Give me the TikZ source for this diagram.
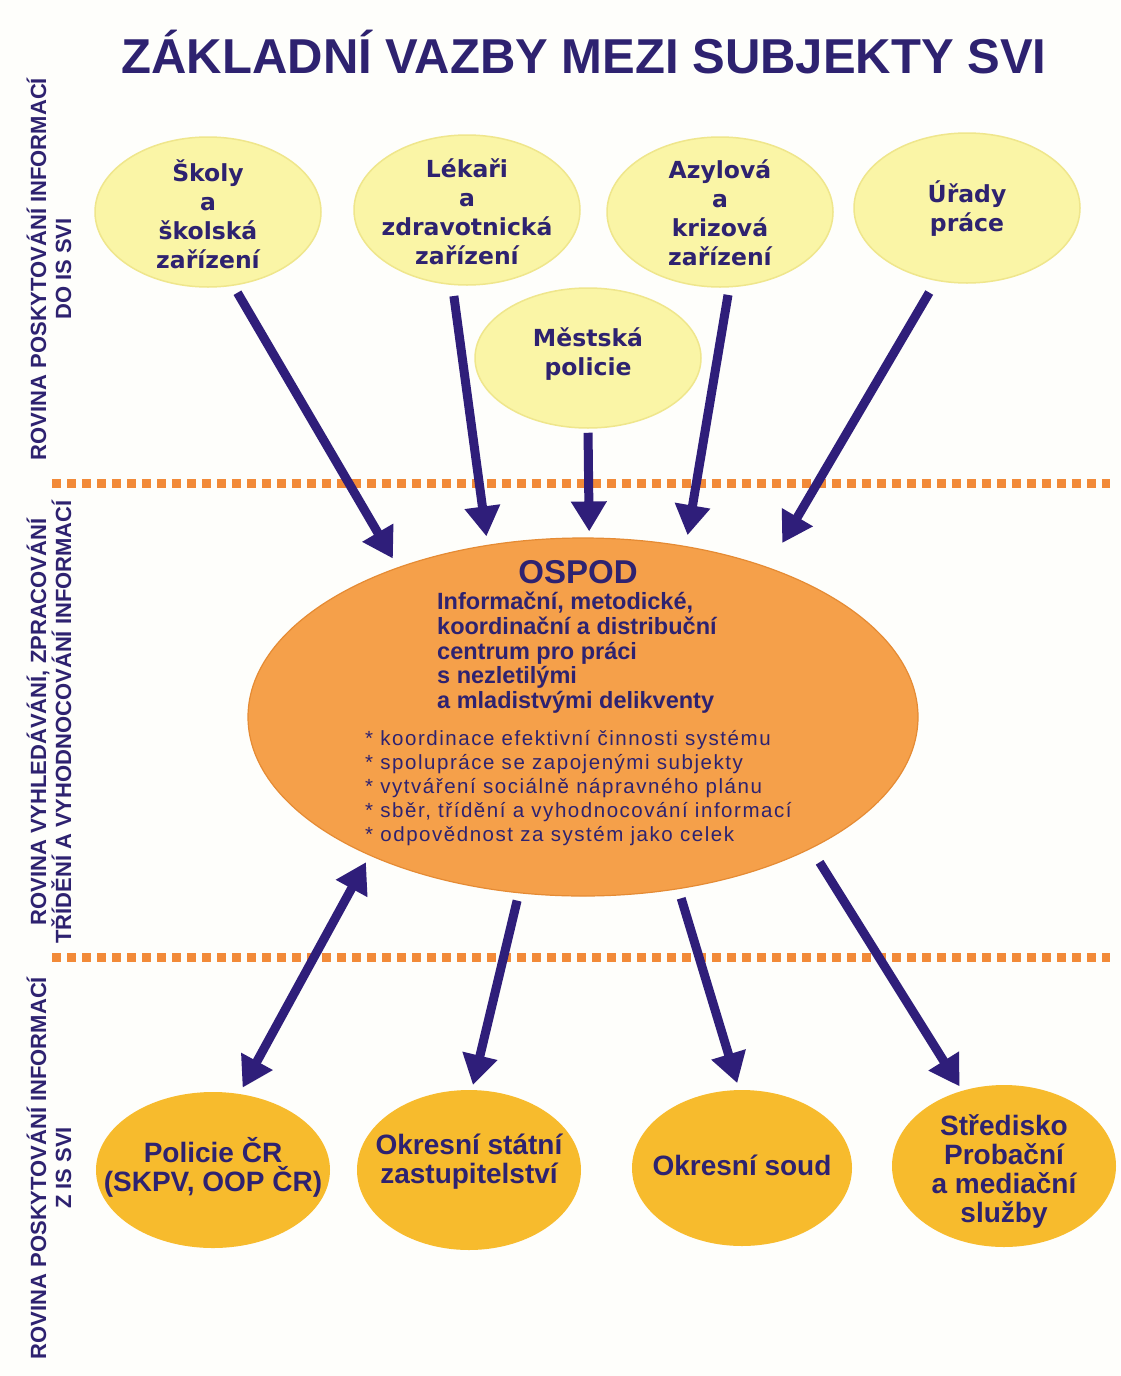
\documentclass[tikz,border=0pt]{standalone}
\usepackage{fontspec}
\setmainfont{Liberation Sans}
\newfontfamily\verd{DejaVu Sans}
\newfontfamily\spaced[LetterSpace=7.5]{Liberation Sans}
\usetikzlibrary{shapes.geometric,arrows.meta}
\definecolor{ink}{HTML}{2E2270}
\definecolor{arr}{HTML}{2F1E7A}
\definecolor{pale}{HTML}{FAF5A6}
\definecolor{paleedge}{HTML}{EFE68C}
\definecolor{org}{HTML}{F5A04A}
\definecolor{orgedge}{HTML}{E58B34}
\definecolor{gold}{HTML}{F7BB2D}
\definecolor{dashc}{HTML}{F28A38}
\definecolor{bg}{HTML}{FEFEFB}
\begin{document}
\begin{tikzpicture}[x=1pt,y=-1pt,
 topell/.style={ellipse, fill=pale, draw=paleedge, line width=1.5pt, minimum width=226pt, minimum height=150pt, inner sep=0pt},
 botell/.style={ellipse, fill=gold, draw=none, inner sep=0pt},
 toptxt/.style={font=\verd\bfseries\fontsize{23.5}{29}\selectfont, text=ink, align=center, inner sep=0pt},
 bottxt/.style={font=\bfseries\fontsize{28}{29}\selectfont, text=ink, align=center, inner sep=0pt},
 tipshape/.tip={Triangle[length=30pt,width=34pt]},
 flow/.style={draw=arr, line width=9pt, -tipshape},
 sep/.style={draw=dashc, line width=9pt, dash pattern=on 9pt off 6pt},
 side/.style={font=\bfseries\fontsize{22}{25}\selectfont, text=ink, align=center, rotate=90, inner sep=0pt}
]
\fill[bg] (0,0) rectangle (1120,1376);
\useasboundingbox (0,0) rectangle (1120,1376);

% title
\node[font=\bfseries\fontsize{49}{49}\selectfont, text=ink, anchor=base, inner sep=0pt] (title) at (584,73) {ZÁKLADNÍ VAZBY MEZI SUBJEKTY SVI};

% side labels
\node[side] (lab1) at (49,269) {ROVINA POSKYTOVÁNÍ INFORMACÍ\\DO IS SVI};
\node[side] (lab2) at (49,722) {ROVINA VYHLEDÁVÁNÍ, ZPRACOVÁNÍ\\TŘÍDĚNÍ A VYHODNOCOVÁNÍ INFORMACÍ};
\node[side] (lab3) at (49,1168) {ROVINA POSKYTOVÁNÍ INFORMACÍ\\Z IS SVI};

% separators
\draw[sep] (52,483) -- (1110,483);
\draw[sep] (52,957) -- (1110,957);

% top ellipses
\node[topell] (skoly) at (208,212) {};
\node[toptxt] (skolyt) at (208,214) {Školy\\a\\školská\\zařízení};
\node[topell] (lekari) at (467,210) {};
\node[toptxt] (lekarit) at (467,212) {Lékaři\\a\\zdravotnická\\zařízení};
\node[topell] (azyl) at (720,212) {};
\node[toptxt] (azylt) at (720,213) {Azylová\\a\\krizová\\zařízení};
\node[topell] (urady) at (967,208) {};
\node[toptxt] (uradyt) at (967,209) {Úřady\\práce};
\node[topell, minimum height=140pt] (mestska) at (588,358) {};
\node[toptxt] (mestskat) at (588,354) {Městská\\policie};

% central ellipse
\node[ellipse, fill=org, draw=orgedge, line width=1.2pt, minimum width=670pt, minimum height=358pt, inner sep=0pt] (ospod) at (583,717) {};
\node[font=\bfseries\fontsize{33}{33}\selectfont, text=ink, anchor=base, inner sep=0pt] (ospodt) at (578,583) {OSPOD};
\node[font=\bfseries\fontsize{23.5}{24.7}\selectfont, text=ink, anchor=north west, align=left, inner sep=0pt] (info) at (437,592) {Informační, metodické,\\koordinační a distribuční\\centrum pro práci\\s nezletilými\\a mladistvými delikventy};
\node[font=\spaced\fontsize{20.5}{24}\selectfont, text=ink, anchor=north west, align=left, inner sep=0pt] (duties) at (365,730) {* koordinace efektivní činnosti systému\\* spolupráce se zapojenými subjekty\\* vytváření sociálně nápravného plánu\\* sběr, třídění a vyhodnocování informací\\* odpovědnost za systém jako celek};

% bottom ellipses
\node[botell, minimum width=234pt, minimum height=156pt] (pol) at (213,1170) {};
\node[bottxt] (polt) at (213,1167) {Policie ČR\\(SKPV, OOP ČR)};
\node[botell, minimum width=224pt, minimum height=160pt] (okst) at (469,1170) {};
\node[bottxt] (okstt) at (469,1162) {Okresní státní\\zastupitelství};
\node[botell, minimum width=220pt, minimum height=156pt] (soud) at (742,1168) {};
\node[bottxt] (soudt) at (742,1165) {Okresní soud};
\node[botell, minimum width=224pt, minimum height=162pt] (stred) at (1004,1166) {};
\node[bottxt] (stredt) at (1004,1171) {Středisko\\Probační\\a mediační\\služby};

% connectors
\draw[flow, shorten <=8pt, shorten >=10pt] (skoly.-71.1) -- (ospod.141.9);
\draw[flow, shorten <=11pt, shorten >=8.5pt] (lekari.-101.8) -- (ospod.119.7);
\draw[flow, shorten <=4pt, shorten >=6pt] (mestska.south) -- (ospod.88.9);
\draw[flow, shorten <=7.5pt, shorten >=11pt] (azyl.-83.1) -- (ospod.59.1);
\draw[flow, shorten <=13.5pt, shorten >=28pt] (urady.-113.2) -- (ospod.39.7);
\draw[flow, tipshape-tipshape, shorten <=7.5pt, shorten >=7pt] (ospod.-147.2) -- (pol.71.1);
\draw[flow, shorten <=7.5pt, shorten >=5pt] (ospod.-110.7) -- (okst.88.7);
\draw[flow, shorten <=9.5pt, shorten >=7pt] (ospod.-61.25) -- (soud.92.1);
\draw[flow, shorten <=16pt, shorten >=5pt] (ospod.-30.2) -- (stred.119.2);
\end{tikzpicture}
\end{document}
